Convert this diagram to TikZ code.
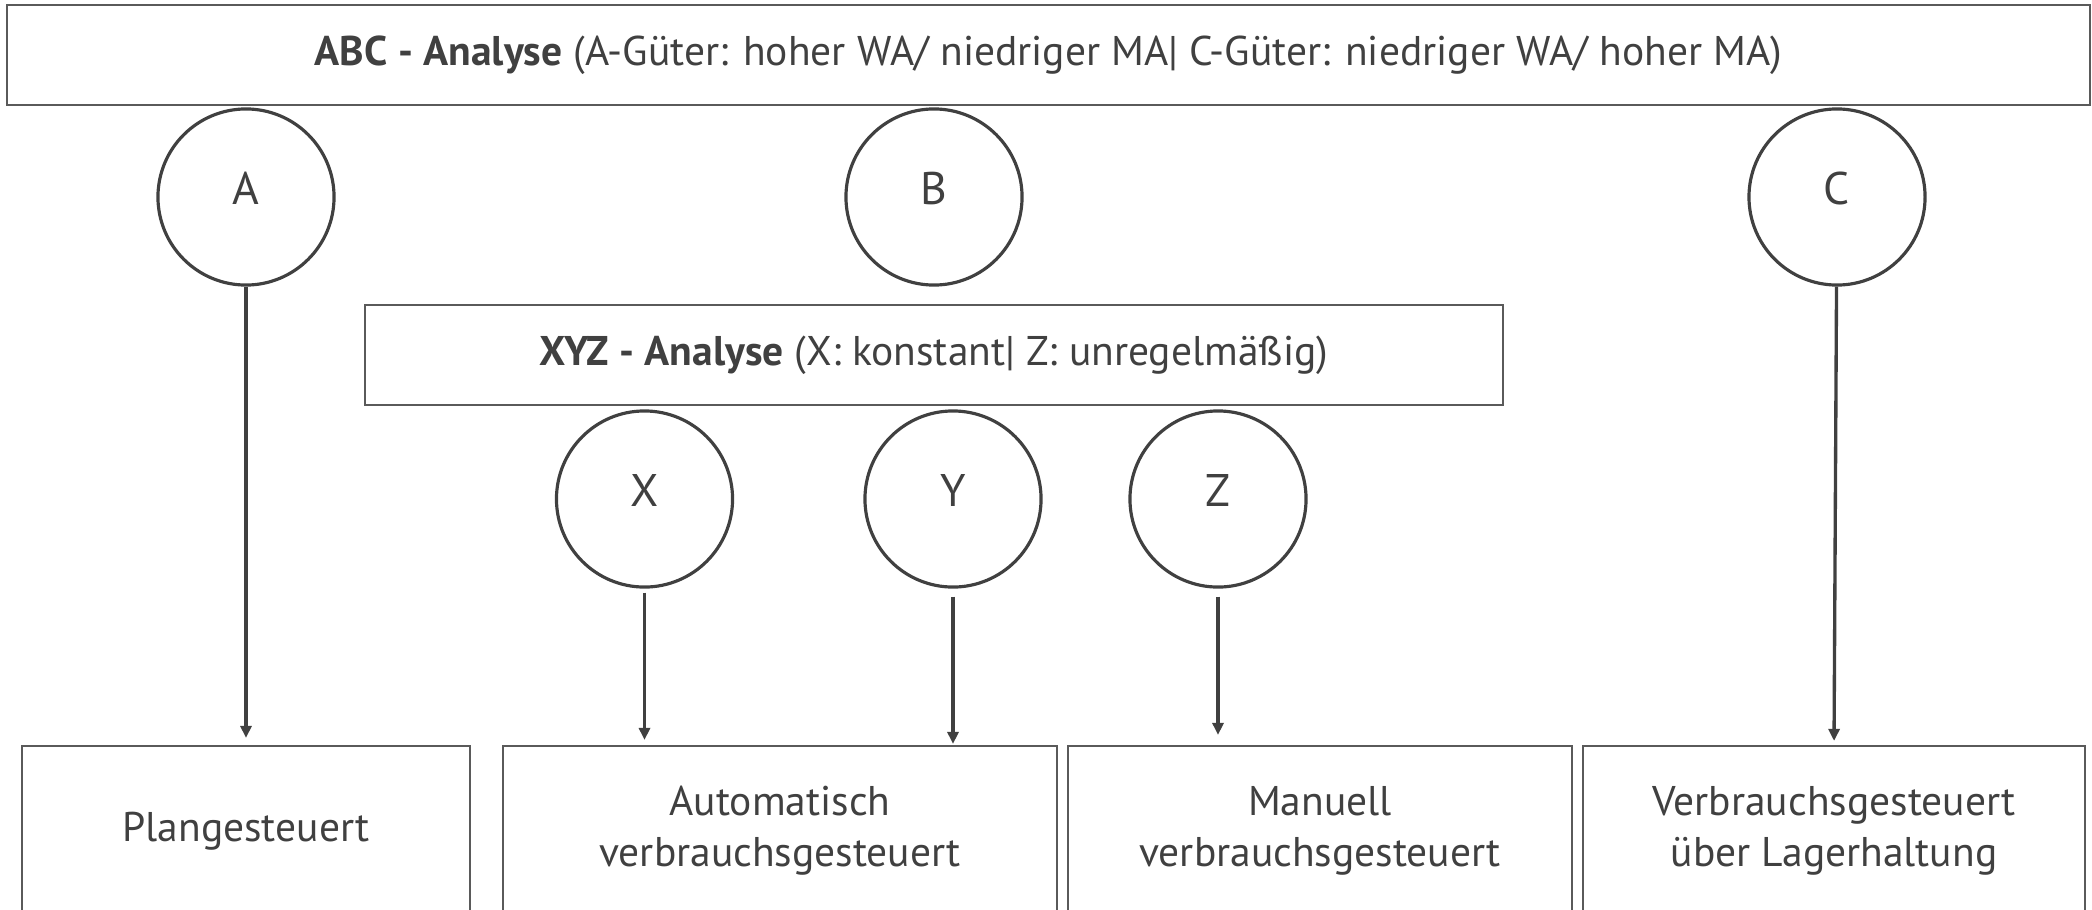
\documentclass[tikz,border=0pt]{standalone}
\usepackage{fontspec}
\setmainfont{PT Sans}
\usetikzlibrary{arrows.meta}
\definecolor{dgray}{RGB}{64,64,64}
\definecolor{mgray}{RGB}{90,90,90}

\begin{document}
\begin{tikzpicture}[x = 0.01cm, y = -0.01cm,
		kasten/.style = {draw = mgray, line width = 0.6pt, text = dgray, inner sep = 0pt, align = center, font = \fontsize{11.8}{14.5}\selectfont},
		kreis/.style = {circle, draw = dgray, line width = 0.9pt, minimum size = 1.76cm, inner sep = 0pt, text = dgray, text depth = 1.8mm, font = \fontsize{13}{15}\selectfont},
		pfeil/.style = {draw = dgray, line width = 0.95pt, -{Triangle[length = 1.2mm, width = 1.1mm]}}]
			\clip (0,0) rectangle (2092,909);
			\node (abc) at (1048.5,55) [kasten, minimum width = 20.81cm, minimum height = 1cm] {\textbf{ABC - Analyse} (A-Güter: hoher WA/ niedriger MA| C-Güter: niedriger WA/ hoher MA)};
			\node (a) at (246,197) [kreis] {A};
			\node (b) at (934,197) [kreis] {B};
			\node (c) at (1837,197) [kreis] {C};
			\node (xyz) at (934,355) [kasten, minimum width = 11.38cm, minimum height = 1cm] {\textbf{XYZ - Analyse} (X: konstant| Z: unregelmäßig)};
			\node (x) at (644.5,499) [kreis] {X};
			\node (y) at (953,499) [kreis] {Y};
			\node (z) at (1218,499) [kreis] {Z};
			\node (plan) at (246,831) [kasten, minimum width = 4.47cm, minimum height = 1.7cm] {Plangesteuert};
			\node (auto) at (780,831) [kasten, minimum width = 5.54cm, minimum height = 1.7cm] {Automatisch\\verbrauchsgesteuert};
			\node (manu) at (1320,831) [kasten, minimum width = 5.04cm, minimum height = 1.7cm] {Manuell\\verbrauchsgesteuert};
			\node (lager) at (1834,831) [kasten, minimum width = 5.02cm, minimum height = 1.7cm] {Verbrauchsgesteuert\\über Lagerhaltung};
			\draw[pfeil, shorten > = 0.07cm] (a) -- (plan.north);
			\draw[pfeil, shorten < = 0.04cm, shorten > = 0.05cm] (x) -- (x |- auto.north);
			\draw[pfeil, shorten < = 0.08cm, shorten > = 0.01cm] (y) -- (y |- auto.north);
			\draw[pfeil, shorten < = 0.08cm, shorten > = 0.1cm] (z) -- (z |- manu.north);
			\draw[pfeil, shorten > = 0.04cm] (c) -- (lager.north);
\end{tikzpicture}
\end{document}
